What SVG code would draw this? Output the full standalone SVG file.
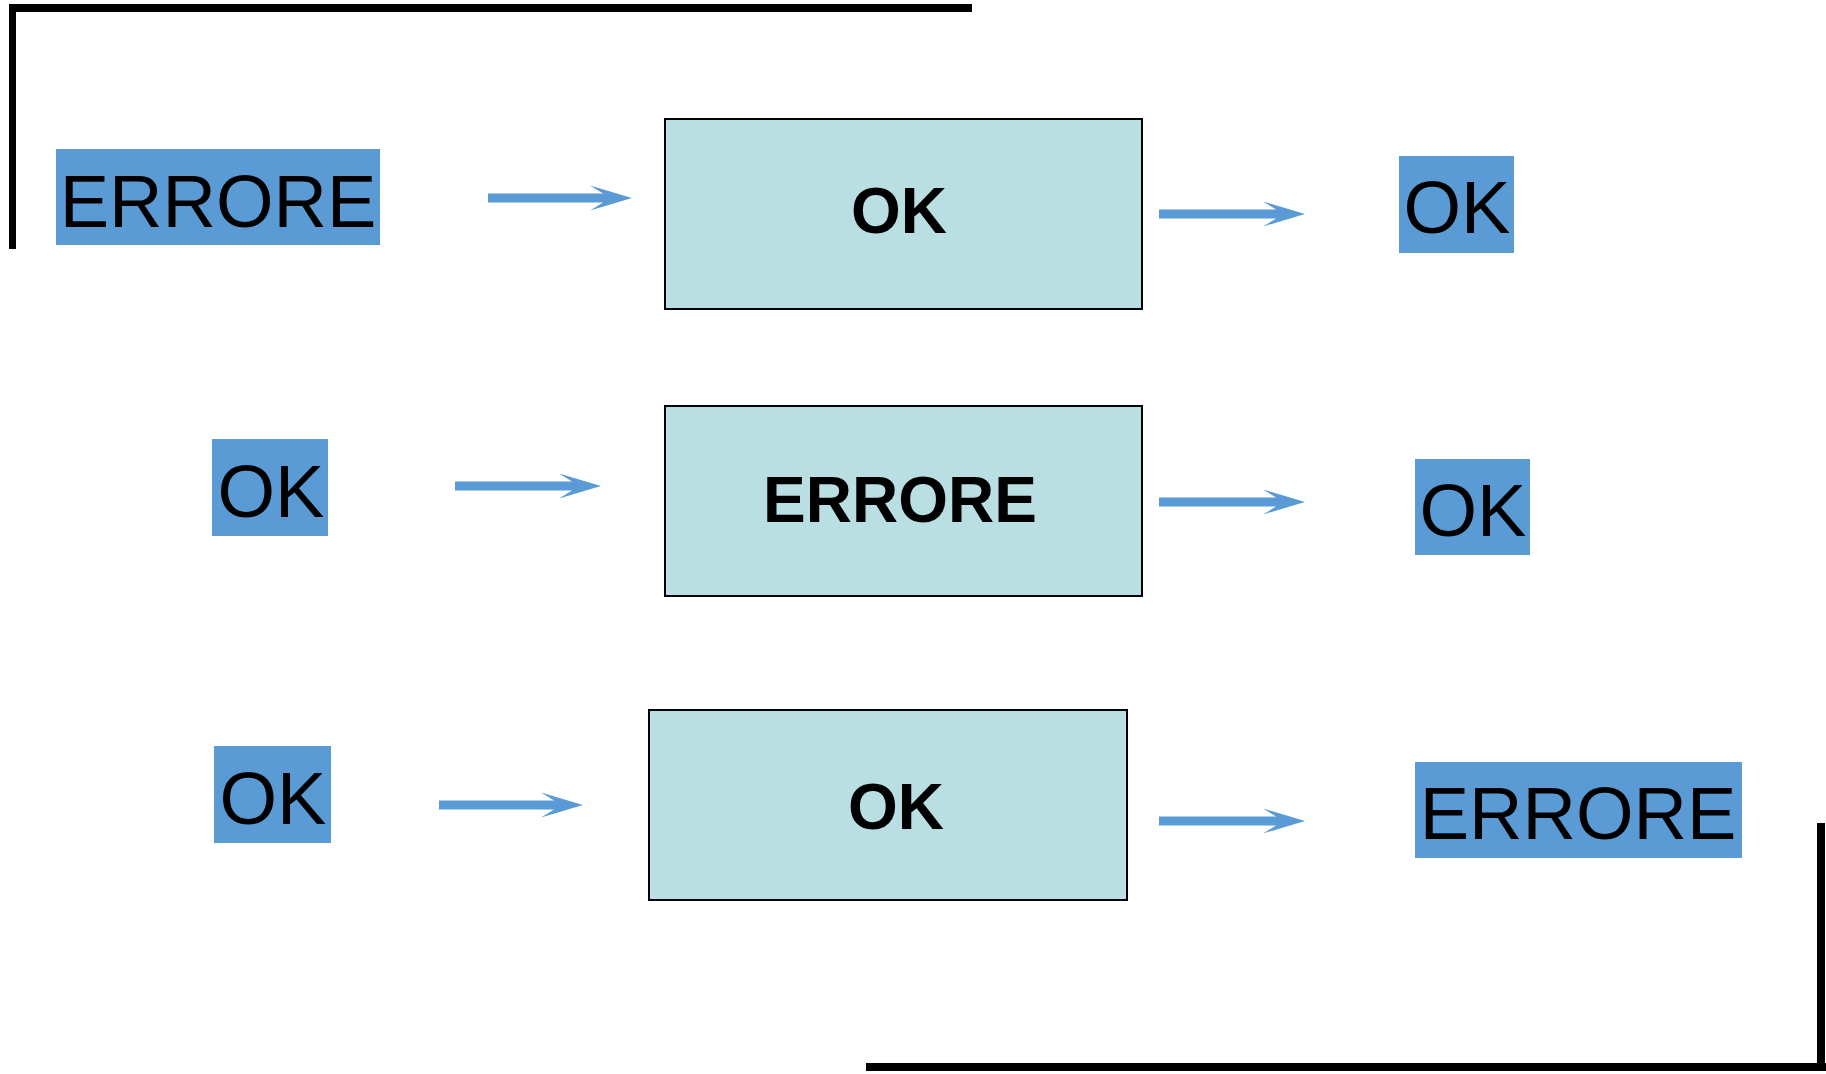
<svg xmlns="http://www.w3.org/2000/svg" width="1826" height="1074" viewBox="0 0 1826 1074">
<style>
.frame{stroke:#000;stroke-width:8;fill:none}
.lbl{fill:#5B9BD5}
.node{fill:#BADFE2;stroke:#000;stroke-width:2}
.lt{font-family:"Liberation Sans",Arial,sans-serif;font-size:74px;fill:#000;text-anchor:middle}
.bt{font-family:"Liberation Sans",Arial,sans-serif;font-size:64px;font-weight:bold;fill:#000;text-anchor:middle}
.arr{stroke:#5B9BD5;stroke-width:9;fill:none;marker-end:url(#ah)}
</style>
<defs>
<marker id="ah" markerUnits="userSpaceOnUse" viewBox="-44 -15 46 30" refX="-24" refY="0" markerWidth="46" markerHeight="30" orient="auto" overflow="visible">
<path d="M0,0 L-42,-12.5 L-29,-4.5 L-29,4.5 L-42,12.5 Z" fill="#5B9BD5"/>
</marker>
</defs>
<rect width="1826" height="1074" fill="#fff"/>
<g id="frame">
<line class="frame" x1="9" y1="8" x2="972" y2="8"/>
<line class="frame" x1="12.5" y1="4" x2="12.5" y2="249" style="stroke-width:7"/>
<line class="frame" x1="1821" y1="823" x2="1821" y2="1067"/>
<line class="frame" x1="866" y1="1067" x2="1826" y2="1067"/>
</g>
<g id="in1"><rect class="lbl" x="56" y="149" width="324" height="96"/><text class="lt" x="218" y="227">ERRORE</text></g>
<g id="box1"><rect class="node" x="665" y="119" width="477" height="190"/><text class="bt" x="899" y="233">OK</text></g>
<g id="out1"><rect class="lbl" x="1399" y="156" width="115" height="97"/><text class="lt" x="1457" y="233">OK</text></g>
<g id="in2"><rect class="lbl" x="212" y="439" width="116" height="97"/><text class="lt" x="271" y="517">OK</text></g>
<g id="box2"><rect class="node" x="665" y="406" width="477" height="190"/><text class="bt" x="900" y="522">ERRORE</text></g>
<g id="out2"><rect class="lbl" x="1415" y="459" width="115" height="96"/><text class="lt" x="1473" y="536">OK</text></g>
<g id="in3"><rect class="lbl" x="214" y="746" width="117" height="97"/><text class="lt" x="273" y="824">OK</text></g>
<g id="box3"><rect class="node" x="649" y="710" width="478" height="190"/><text class="bt" x="896" y="829">OK</text></g>
<g id="out3"><rect class="lbl" x="1415" y="762" width="327" height="96"/><text class="lt" x="1578" y="839">ERRORE</text></g>
<g id="connectors">
<line class="arr" x1="488" y1="198" x2="608" y2="198"/>
<line class="arr" x1="1159" y1="214" x2="1281" y2="214"/>
<line class="arr" x1="455" y1="486" x2="577" y2="486"/>
<line class="arr" x1="1159" y1="502" x2="1281" y2="502"/>
<line class="arr" x1="439" y1="805" x2="559" y2="805"/>
<line class="arr" x1="1159" y1="821" x2="1281" y2="821"/>
</g>
</svg>
